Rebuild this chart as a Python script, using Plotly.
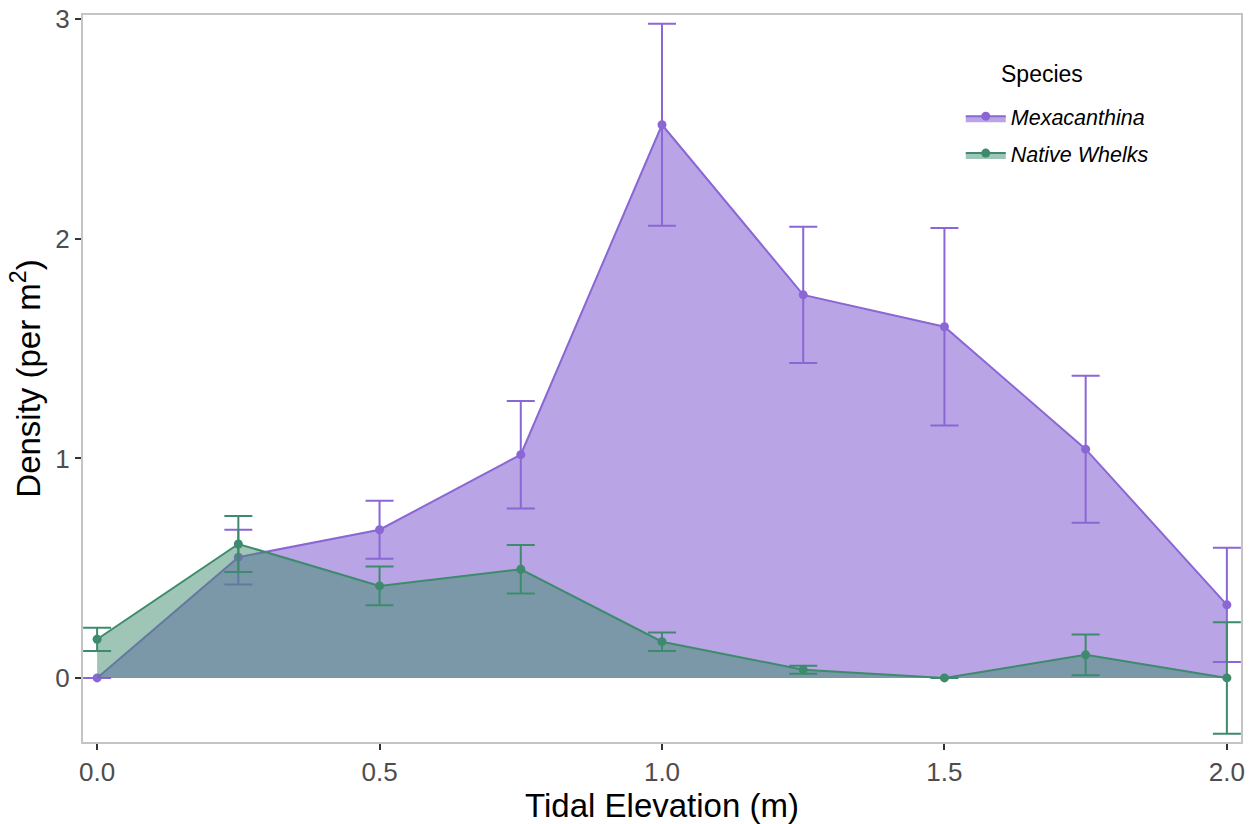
import plotly.graph_objects as go

elevation = [0.0, 0.25, 0.5, 0.75, 1.0, 1.25, 1.5, 1.75, 2.0]

mex_mean = [0.0, 0.55, 0.675, 1.017, 2.52, 1.745, 1.60, 1.042, 0.333]
mex_se = [0.0, 0.125, 0.132, 0.245, 0.46, 0.31, 0.45, 0.335, 0.26]

nat_mean = [0.176, 0.61, 0.419, 0.495, 0.165, 0.037, 0.0, 0.105, 0.0]
nat_se = [0.053, 0.128, 0.088, 0.11, 0.042, 0.018, 0.0, 0.093, 0.254]

species = ["Mexacanthina", "Native Whelks"]
line_colors = ["#8a67d4", "#3d8b6c"]
fill_colors = ["rgba(138,103,212,0.6)", "rgba(61,139,108,0.5)"]

fig = go.Figure()
for name, mean, se, lc, fc in [
    (species[0], mex_mean, mex_se, line_colors[0], fill_colors[0]),
    (species[1], nat_mean, nat_se, line_colors[1], fill_colors[1]),
]:
    fig.add_trace(go.Scatter(
        x=elevation, y=mean, name=f"<i>{name}</i>", legendgroup=name,
        mode="lines+markers", fill="tozeroy", fillcolor=fc,
        line=dict(color=lc, width=2), marker=dict(color=lc, size=9),
        error_y=dict(type="data", array=se, visible=True, color=lc,
                     thickness=2, width=14),
    ))

fig.add_annotation(
    text="Species", xref="paper", yref="paper",
    x=(1042 - 83) / 1158, y=1 - (74 - 15) / 727,
    xanchor="center", yanchor="middle", showarrow=False,
    font=dict(size=23, color="black"),
)

fig.update_layout(
    width=1257, height=824,
    margin=dict(l=83, r=16, t=15, b=82),
    paper_bgcolor="white", plot_bgcolor="white",
    font=dict(family="Liberation Sans, Arial, sans-serif", color="black"),
    showlegend=True,
    legend=dict(
        x=0.758, y=0.889, xanchor="left", yanchor="top",
        bgcolor="rgba(0,0,0,0)",
        font=dict(size=21.5, color="black"),
        itemwidth=40, tracegroupgap=6,
    ),
    xaxis=dict(
        range=[-0.025, 2.025], tickvals=[0, 0.5, 1.0, 1.5, 2.0],
        tickformat=".1f", showgrid=False, zeroline=False, automargin=False,
        showline=True, mirror=True, linecolor="#c4c4c4", linewidth=2,
        ticks="outside", ticklen=6, tickcolor="#333333", tickwidth=1.5,
        tickfont=dict(size=26, color="#4d4d4d"),
        title=dict(text="Tidal Elevation (m)", font=dict(size=33, color="black"), standoff=2),
    ),
    yaxis=dict(
        range=[-0.292, 3.02], tickvals=[0, 1, 2, 3],
        showgrid=False, zeroline=False, automargin=False,
        showline=True, mirror=True, linecolor="#c4c4c4", linewidth=2,
        ticks="outside", ticklen=6, tickcolor="#333333", tickwidth=1.5,
        tickfont=dict(size=26, color="#4d4d4d"),
        title=dict(text="Density (per m<sup>2</sup>)", font=dict(size=33, color="black"), standoff=5),
    ),
)

fig.write_html("out.html")
